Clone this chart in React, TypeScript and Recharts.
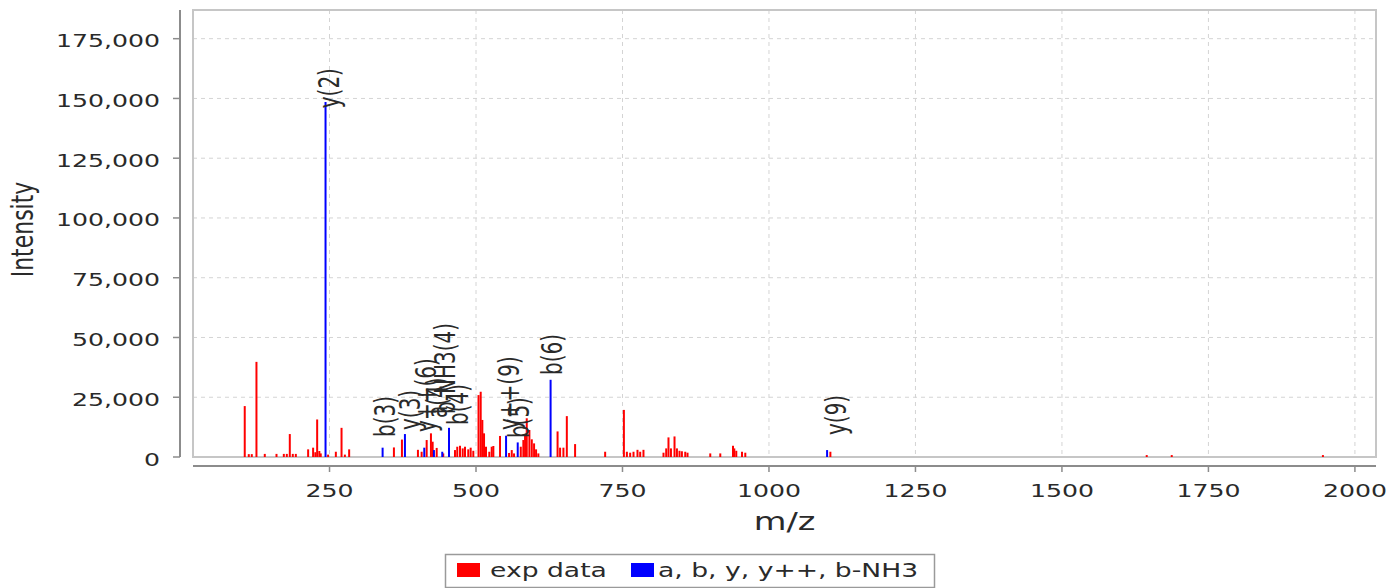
import React from 'react';
import { ComposedChart, Scatter, ErrorBar, XAxis, YAxis, CartesianGrid, ReferenceArea } from 'recharts';

// experimental peaks (m/z, intensity)
const expMz = [
  105.3, 112.2, 117.3, 125.3, 139.5, 159.5, 172.0, 177.1, 182.2, 187.3,
  192.5, 213.5, 222.0, 225.8, 228.9, 232.6, 235.0, 247.6, 260.8, 270.5,
  276.2, 283.5, 359.9, 373.6, 400.9, 407.2, 415.8, 423.1, 426.0, 432.9,
  444.1, 464.1, 468.0, 472.7, 477.3, 481.2, 486.8, 490.9, 495.4, 504.3,
  508.0, 510.8, 513.7, 517.1, 522.7, 526.8, 529.6, 541.0, 556.4, 561.0,
  564.9, 576.4, 580.8, 583.7, 586.6, 591.1, 595.2, 599.1, 602.5, 606.4,
  639.2, 643.5, 649.2, 655.0, 669.1, 720.4, 752.4, 757.5, 763.1, 768.8,
  775.6, 780.2, 785.8, 820.0, 824.6, 828.5, 832.7, 838.8, 842.9, 847.3,
  851.4, 857.1, 861.0, 899.8, 916.9, 938.6, 940.8, 944.2, 954.0, 959.6,
  1104.8, 1644.7, 1687.4, 1945.4,
];
const expIntensity = [
  21300, 1200, 1200, 39800, 1300, 1300, 1300, 1300, 9600, 1300,
  1300, 3200, 3900, 2000, 15700, 2500, 1500, 1000, 2200, 12200,
  1000, 3200, 4000, 7300, 3000, 2200, 7100, 9900, 6400, 3800,
  1500, 2900, 4300, 4700, 3600, 4300, 3200, 3900, 2600, 25900,
  27300, 15500, 9900, 4300, 2200, 4300, 4600, 8800, 1700, 2900,
  1500, 4300, 7100, 8800, 16200, 11300, 7400, 5700, 3200, 1500,
  10700, 3900, 3900, 17100, 5400, 2200, 19700, 2200, 1800, 2200,
  3000, 2200, 3000, 1800, 3600, 8200, 3600, 8600, 3600, 2600,
  2400, 2200, 1800, 1500, 1500, 4700, 3600, 2600, 2200, 1800,
  2200, 800, 800, 800,
];

// annotated fragment ions
const ionMz = [243.2, 340.6, 378.7, 411.7, 428.2, 442.4, 453.9, 551.3, 571.2, 627.3, 1099.2];
const ionIntensity = [148500, 3900, 9600, 3900, 2900, 2200, 12200, 8900, 6100, 32300, 2900];
const ionLabels = ['y(2)', 'b(3)', 'y(3)', 'y++(6)', 'a(4)', 'b-NH3(4)', 'b(4)', 'y++(9)', 'b(5)', 'b(6)', 'y(9)'];
// where each annotation text sits (m/z of its centre, intensity of its lower end)
const labelMz = [248.8, 344.5, 387.2, 414.6, 433.4, 447.0, 469.2, 556.4, 573.5, 630.7, 1114.7];
const labelIntensity = [145900, 8400, 11300, 10500, 16300, 18000, 13400, 11300, 7900, 34300, 9200];

const xTicks = [250, 500, 750, 1000, 1250, 1500, 1750, 2000];
const yTicks = [0, 25000, 50000, 75000, 100000, 125000, 150000, 175000];
const xDomain: [number, number] = [17, 2036];
const yDomain: [number, number] = [0, 187000];

const legendItems = [
  { name: 'exp data', color: '#ff0000' },
  { name: 'a, b, y, y++, b-NH3', color: '#0000ff' },
];

const SX = 1.4;
const FONT = '"DejaVu Sans", Verdana, sans-serif';
const TEXT = '#2a2a2a';
const AXIS = '#8c8c8c';

const expData = expMz.map((mz, i) => ({ mz, intensity: expIntensity[i], err: [expIntensity[i], 0] }));
const ionData = ionMz.map((mz, i) => ({ mz, intensity: ionIntensity[i], err: [ionIntensity[i], 0] }));
const labelData = labelMz.map((mz, i) => ({ mz, intensity: labelIntensity[i], label: ionLabels[i] }));

const fmt = (v: number) => v.toLocaleString('en-US');

const YTick = (props: any) => {
  const { x, y, payload } = props;
  return (
    <g>
      <line x1={x - 20} x2={x - 13} y1={y} y2={y} stroke={AXIS} strokeWidth={1.5} />
      <text
        transform={`translate(${x - 33},${y + 8.5}) scale(${SX},1)`}
        textAnchor="end"
        fontFamily={FONT}
        fontSize={18}
        fill={TEXT}
      >
        {fmt(payload.value)}
      </text>
    </g>
  );
};

const XTick = (props: any) => {
  const { x, y, payload } = props;
  return (
    <g>
      <line x1={x} x2={x} y1={y + 9} y2={y + 15} stroke={AXIS} strokeWidth={1.5} />
      <text
        transform={`translate(${x},${y + 39.5}) scale(${SX},1)`}
        textAnchor="middle"
        fontFamily={FONT}
        fontSize={18}
        fill={TEXT}
      >
        {payload.value}
      </text>
    </g>
  );
};

const XTitle = (props: any) => {
  const vb = props.viewBox;
  return (
    <text
      transform={`translate(${vb.x + vb.width / 2},${vb.y + 73}) scale(${SX},1)`}
      textAnchor="middle"
      fontFamily={FONT}
      fontSize={24}
      fill={TEXT}
    >
      m/z
    </text>
  );
};

const YTitle = (props: any) => {
  const vb = props.viewBox;
  return (
    <g transform={`translate(${22.5},${vb.y + vb.height / 2 - 4}) scale(${SX},1) rotate(-90)`}>
      <text x={0} y={0} textAnchor="middle" dominantBaseline="central" fontFamily={FONT} fontSize={22} fill={TEXT}>
        Intensity
      </text>
    </g>
  );
};

const Hidden = () => <g />;

const PeakLabel = (props: any) => {
  const { cx, cy, payload } = props;
  return (
    <g transform={`translate(${cx},${cy}) scale(${SX},1) rotate(-90)`}>
      <text x={0} y={0} textAnchor="start" dominantBaseline="central" fontFamily={FONT} fontSize={20} fill={TEXT}>
        {payload.label}
      </text>
    </g>
  );
};

const Legend = () => {
  const x0 = 445;
  const y0 = 554;
  const w = 489;
  const h = 33;
  return (
    <svg width={1393} height={588} style={{ position: 'absolute', left: 0, top: 0, pointerEvents: 'none' }}>
      <rect x={x0 + 0.5} y={y0 + 0.5} width={w} height={h} fill="#fff" stroke="#9a9a9a" strokeWidth={1.5} />
      <rect x={457} y={563} width={23} height={14} fill={legendItems[0].color} />
      <text transform={`translate(490,576.5) scale(${SX},1)`} fontFamily={FONT} fontSize={19} fill={TEXT}>
        {legendItems[0].name}
      </text>
      <rect x={631} y={563} width={23} height={14} fill={legendItems[1].color} />
      <text transform={`translate(658,576.5) scale(${SX},1)`} fontFamily={FONT} fontSize={19} fill={TEXT}>
        {legendItems[1].name}
      </text>
    </svg>
  );
};

export default function App() {
  return (
    <div style={{ position: 'absolute', left: 0, top: 0, width: 1393, height: 588, background: '#fff' }}>
      <ComposedChart width={1393} height={588} margin={{ top: 10, right: 17, bottom: 0, left: 0 }}>
        <CartesianGrid stroke="#d4d4d4" strokeDasharray="4 4" strokeWidth={1} />
        <XAxis
          type="number"
          dataKey="mz"
          domain={xDomain}
          ticks={xTicks}
          interval={0}
          allowDataOverflow
          height={131}
          tickSize={0}
          tickMargin={0}
          tickLine={false}
          tick={<XTick />}
          axisLine={{ stroke: AXIS, strokeWidth: 2, transform: 'translate(0 9)' } as any}
          label={{ content: XTitle } as any}
        />
        <YAxis
          type="number"
          dataKey="intensity"
          domain={yDomain}
          ticks={yTicks}
          interval={0}
          allowDataOverflow
          width={193}
          tickSize={0}
          tickMargin={0}
          tickLine={false}
          tick={<YTick />}
          axisLine={{ stroke: AXIS, strokeWidth: 2, transform: 'translate(-13 0)' } as any}
          label={{ content: YTitle } as any}
        />
        <ReferenceArea
          x1={xDomain[0]}
          x2={xDomain[1]}
          y1={yDomain[0]}
          y2={yDomain[1]}
          fill="none"
          fillOpacity={0}
          stroke="#c6c6c6"
          strokeWidth={2}
          ifOverflow="visible"
        />
        <Scatter name="exp data" data={expData} dataKey="intensity" shape={Hidden} isAnimationActive={false}>
          <ErrorBar dataKey="err" direction="y" width={0} stroke="#ff0000" strokeWidth={2} isAnimationActive={false} />
        </Scatter>
        <Scatter name="a, b, y, y++, b-NH3" data={ionData} dataKey="intensity" shape={Hidden} isAnimationActive={false}>
          <ErrorBar dataKey="err" direction="y" width={0} stroke="#0000ff" strokeWidth={2} isAnimationActive={false} />
        </Scatter>
        <Scatter name="labels" data={labelData} dataKey="intensity" shape={PeakLabel} isAnimationActive={false} />
      </ComposedChart>
      <Legend />
    </div>
  );
}
